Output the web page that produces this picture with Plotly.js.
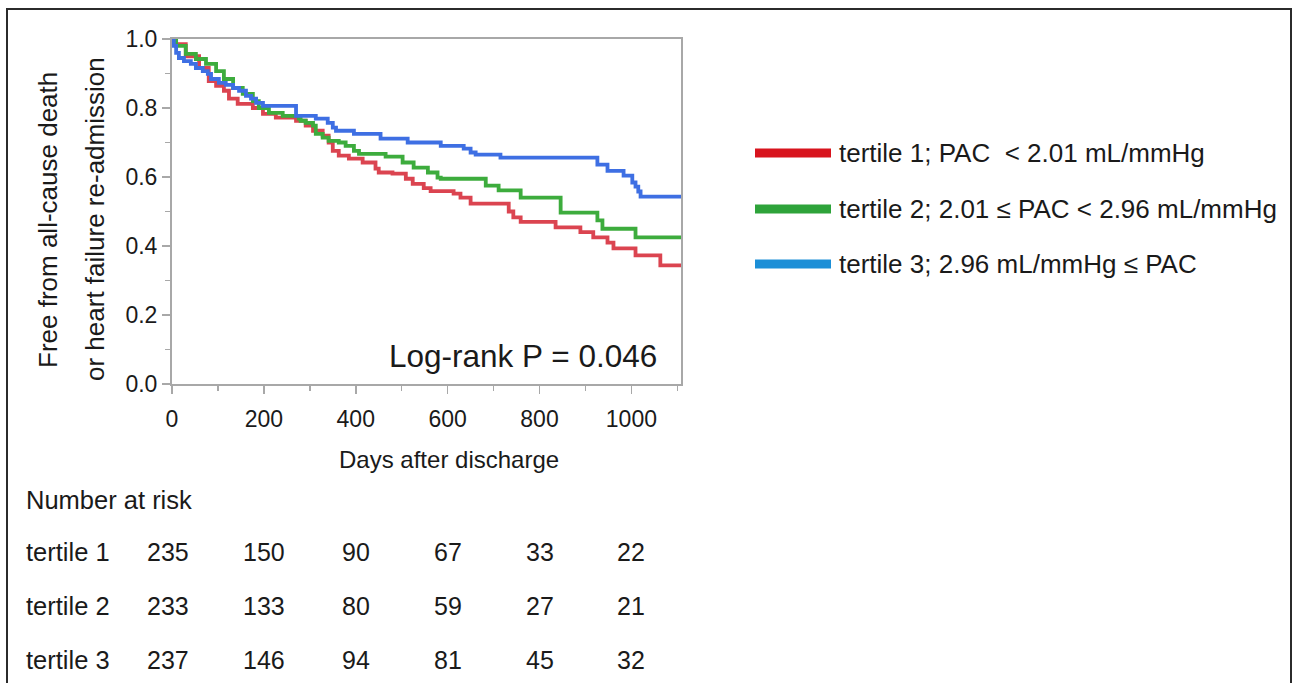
<!DOCTYPE html>
<html>
<head>
<meta charset="utf-8">
<script src="https://cdn.plot.ly/plotly-3.0.1.min.js"></script>
<style>html,body{margin:0;padding:0;background:#fff;}#chart{width:1293px;height:683px;}</style>
</head>
<body>
<div id="chart"></div>
<script>
// ---- Data ----
const seriesNames = ["tertile 1; PAC\u00a0 < 2.01 mL/mmHg", "tertile 2; 2.01 \u2264 PAC < 2.96 mL/mmHg", "tertile 3; 2.96 mL/mmHg \u2264 PAC"];
const rowLabels = ["tertile 1", "tertile 2", "tertile 3"];

const t1Days = [0, 4, 30, 59, 80, 96, 113, 124, 143, 176, 198, 226, 270, 291, 307, 328, 341, 350, 363, 385, 415, 443, 450, 480, 509, 524, 548, 563, 613, 628, 650, 733, 743, 759, 835, 889, 917, 948, 961, 1009, 1063, 1108];
const t1Surv = [1.0, 0.985, 0.95, 0.916, 0.878, 0.864, 0.85, 0.827, 0.812, 0.80, 0.783, 0.772, 0.763, 0.749, 0.734, 0.72, 0.70, 0.676, 0.662, 0.653, 0.642, 0.624, 0.613, 0.61, 0.595, 0.58, 0.568, 0.559, 0.552, 0.54, 0.523, 0.50, 0.483, 0.47, 0.454, 0.44, 0.425, 0.41, 0.393, 0.373, 0.344, 0.344];

const t2Days = [0, 9, 30, 52, 74, 96, 113, 133, 154, 176, 189, 211, 241, 276, 280, 291, 307, 313, 328, 341, 363, 378, 396, 407, 465, 502, 526, 557, 578, 585, 683, 711, 759, 846, 926, 937, 1009, 1108];
const t2Surv = [1.0, 0.98, 0.957, 0.942, 0.928, 0.907, 0.884, 0.858, 0.841, 0.82, 0.80, 0.786, 0.777, 0.769, 0.763, 0.757, 0.749, 0.725, 0.714, 0.705, 0.70, 0.69, 0.676, 0.667, 0.659, 0.642, 0.627, 0.613, 0.598, 0.595, 0.575, 0.561, 0.54, 0.497, 0.474, 0.45, 0.425, 0.425];

const t3Days = [0, 4, 9, 15, 26, 41, 52, 67, 78, 85, 102, 117, 133, 146, 161, 172, 183, 198, 270, 313, 339, 350, 357, 396, 454, 513, 585, 635, 650, 661, 715, 926, 948, 983, 1002, 1009, 1015, 1020, 1108];
const t3Surv = [1.0, 0.98, 0.96, 0.945, 0.936, 0.928, 0.916, 0.907, 0.899, 0.884, 0.873, 0.867, 0.858, 0.85, 0.835, 0.827, 0.815, 0.806, 0.777, 0.769, 0.757, 0.743, 0.734, 0.725, 0.711, 0.70, 0.69, 0.682, 0.671, 0.665, 0.656, 0.636, 0.618, 0.604, 0.584, 0.572, 0.558, 0.543, 0.543];

const riskDays = [0, 200, 400, 600, 800, 1000];
const risk1 = [235, 150, 90, 67, 33, 22];
const risk2 = [233, 133, 80, 59, 27, 21];
const risk3 = [237, 146, 94, 81, 45, 32];

const pValueText = "Log-rank P = 0.046";
const xTitle = "Days after discharge";

// ---- Styles ----
const curveColors = ["#db4450", "#3dac3d", "#3e6fe3"];
const legendColors = ["#d8141e", "#2ea33a", "#1c8fd7"];
const FONT = "Liberation Sans, Arial, sans-serif";
const TXT = "#1a1a1a";

// Plot area in pixels
const W = 1293, H = 683;
const L = 172, R = 681, T = 39, B = 384;
const px = p => (p - L) / (R - L);
const py = p => (B - p) / (B - T);

const traces = [[t1Days, t1Surv], [t2Days, t2Surv], [t3Days, t3Surv]].map((d, i) => ({
  x: d[0], y: d[1], type: "scatter", mode: "lines",
  line: {shape: "hv", color: curveColors[i], width: 3.8},
  showlegend: false, hoverinfo: "skip"
}));

const annotations = [];
const shapes = [];

// y title (two lines)
annotations.push({xref: "paper", yref: "paper", x: px(48), y: py(220), text: "Free from all-cause death",
  textangle: -90, showarrow: false, font: {family: FONT, size: 26, color: TXT}, xanchor: "center", yanchor: "middle"});
annotations.push({xref: "paper", yref: "paper", x: px(95), y: py(219), text: "or heart failure re-admission",
  textangle: -90, showarrow: false, font: {family: FONT, size: 26, color: TXT}, xanchor: "center", yanchor: "middle"});

// x title
annotations.push({xref: "paper", yref: "paper", x: px(449), y: py(460), text: xTitle, showarrow: false,
  font: {family: FONT, size: 24, color: TXT}, xanchor: "center", yanchor: "middle"});

// Log-rank
annotations.push({xref: "paper", yref: "paper", x: px(523), y: py(356), text: pValueText, showarrow: false,
  font: {family: FONT, size: 31.5, color: TXT}, xanchor: "center", yanchor: "middle"});

// Legend (lines + text)
const legY = [153, 209, 264];
seriesNames.forEach((name, i) => {
  shapes.push({type: "line", xref: "paper", yref: "paper", x0: px(755), x1: px(831), y0: py(legY[i]), y1: py(legY[i]),
    line: {color: legendColors[i], width: 9}});
  annotations.push({xref: "paper", yref: "paper", x: px(837), y: py(legY[i]), text: name, showarrow: false,
    font: {family: FONT, size: 26, color: TXT}, xanchor: "left", yanchor: "middle"});
});

// Number at risk table
annotations.push({xref: "paper", yref: "paper", x: px(24), y: py(500), text: "Number at risk", showarrow: false,
  font: {family: FONT, size: 25.5, color: TXT}, xanchor: "left", yanchor: "middle"});
const rowY = [552, 606, 660];
[risk1, risk2, risk3].forEach((vals, r) => {
  annotations.push({xref: "paper", yref: "paper", x: px(24), y: py(rowY[r]), text: rowLabels[r], showarrow: false,
    font: {family: FONT, size: 25.5, color: TXT}, xanchor: "left", yanchor: "middle"});
  vals.forEach((v, c) => {
    annotations.push({xref: "x", yref: "paper", x: riskDays[c], y: py(rowY[r]), text: String(v), showarrow: false,
      font: {family: FONT, size: 25, color: TXT}, xanchor: "center", yanchor: "middle", xshift: c === 0 ? -4 : 0});
  });
});

// outer border
shapes.push({type: "rect", xref: "paper", yref: "paper", x0: px(7), x1: px(1291), y0: py(700), y1: py(9),
  line: {color: "#2b2b2b", width: 2}, fillcolor: "rgba(0,0,0,0)"});

const axisCommon = {
  showline: true, linecolor: "#a8a8a8", linewidth: 2, mirror: true,
  ticks: "outside", tickcolor: "#a8a8a8", tickwidth: 1.5, ticklen: 8,
  showgrid: false, zeroline: false, fixedrange: true,
  tickfont: {family: FONT, size: 23, color: TXT}
};

const layout = {
  width: W, height: H,
  margin: {l: L, r: W - R, t: T, b: H - B},
  paper_bgcolor: "#ffffff", plot_bgcolor: "#ffffff",
  showlegend: false,
  xaxis: Object.assign({}, axisCommon, {
    range: [0, 1108], tickvals: [0, 200, 400, 600, 800, 1000], ticktext: ["0", "200", "400", "600", "800", "1000"],
    minor: {tickvals: [100, 300, 500, 700, 900, 1100], ticks: "outside", ticklen: 5, tickcolor: "#a8a8a8", tickwidth: 1.5},
    ticklabelstandoff: 5
  }),
  yaxis: Object.assign({}, axisCommon, {
    range: [0, 1.0], tickvals: [0, 0.2, 0.4, 0.6, 0.8, 1.0], ticktext: ["0.0", "0.2", "0.4", "0.6", "0.8", "1.0"],
    minor: {tickvals: [0.1, 0.3, 0.5, 0.7, 0.9], ticks: "outside", ticklen: 5, tickcolor: "#a8a8a8", tickwidth: 1.5},
    ticklabelstandoff: 0
  }),
  annotations: annotations,
  shapes: shapes
};

Plotly.newPlot("chart", traces, layout, {displayModeBar: false, staticPlot: true});
</script>
</body>
</html>
